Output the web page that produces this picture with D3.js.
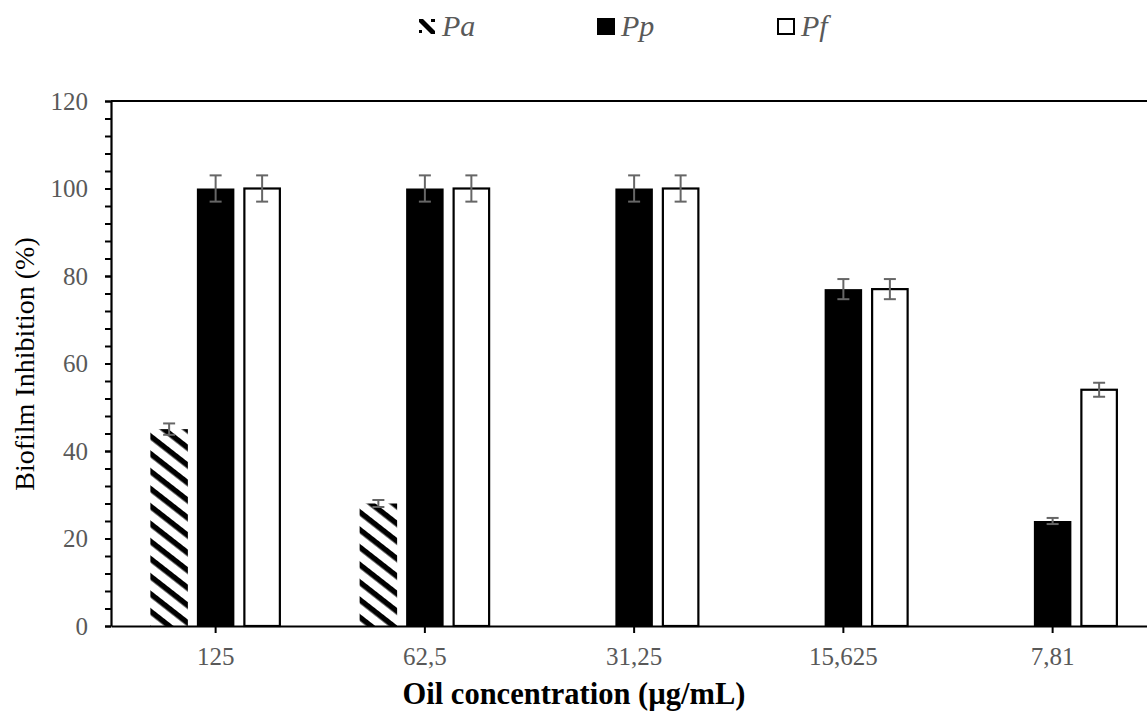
<!DOCTYPE html>
<html>
<head>
<meta charset="utf-8">
<script src="https://cdn.jsdelivr.net/npm/d3@7"></script>
<style>
  html, body { margin: 0; padding: 0; background: #fff; }
  svg { display: block; }
</style>
</head>
<body>
<svg id="chart" width="1147" height="724"></svg>
<script>
const categories = ["125", "62,5", "31,25", "15,625", "7,81"];
const series = ["Pa", "Pp", "Pf"];
const valuesPa = [45, 28, null, null, null];
const valuesPp = [100, 100, 100, 77, 24];
const valuesPf = [100, 100, 100, 77, 54];
const errorsPa = [1.3, 0.8, null, null, null];
const errorsPp = [3, 3, 3, 2.3, 0.7];
const errorsPf = [3, 3, 3, 2.3, 1.6];
const yMajorTicks = [0, 20, 40, 60, 80, 100, 120];
const yMinorTicks = d3.range(0, 121, 4);
const yTitle = "Biofilm Inhibition (%)";
const xTitle = "Oil concentration (µg/mL)";

(function () {
const valueTable = { Pa: valuesPa, Pp: valuesPp, Pf: valuesPf };
const errorTable = { Pa: errorsPa, Pp: errorsPp, Pf: errorsPf };

const svg = d3.select("#chart");
const FONT = "'Liberation Serif', 'Times New Roman', serif";
const GRAY = "#595959";

const plotLeft = 111, plotTop = 101, plotBottom = 626;
const x0 = d3.scaleBand().domain(categories).range([plotLeft, plotLeft + 5 * 209.25]).padding(0);
const groupW = 130.5;
const x1 = d3.scaleBand().domain(series).range([0, groupW]).paddingInner(0.1935).paddingOuter(0);
const y = d3.scaleLinear().domain([0, 120]).range([plotBottom, plotTop]);

// hatch pattern
const defs = svg.append("defs");
const pat = defs.append("pattern")
  .attr("id", "hatch")
  .attr("patternUnits", "userSpaceOnUse")
  .attr("width", 40).attr("height", 13.8)
  .attr("patternTransform", "rotate(38)");
pat.append("rect").attr("width", 40).attr("height", 13.8).attr("fill", "#fff");
pat.append("rect").attr("y", 0).attr("width", 40).attr("height", 5.5).attr("fill", "#000");

// data rows
const rows = [];
categories.forEach((c, i) => {
  series.forEach(s => {
    const v = valueTable[s][i];
    if (v != null) rows.push({ cat: c, s, v, e: errorTable[s][i] });
  });
});

const gx = c => x0(c) + x0.bandwidth() / 2 - groupW / 2;

const bars = svg.append("g");
bars.selectAll("rect").data(rows).join("rect")
  .attr("x", d => gx(d.cat) + x1(d.s) + (d.s === "Pf" ? 1 : 0))
  .attr("y", d => y(d.v))
  .attr("width", d => x1.bandwidth() - (d.s === "Pf" ? 2 : 0))
  .attr("height", d => y(0) - y(d.v))
  .attr("fill", d => d.s === "Pa" ? "url(#hatch)" : d.s === "Pp" ? "#000" : "#fff")
  .attr("stroke", d => d.s === "Pf" ? "#000" : "none")
  .attr("stroke-width", 2.2);

// error bars
const eg = svg.append("g").attr("stroke", "#666").attr("stroke-width", 2).attr("fill", "none");
rows.forEach(d => {
  const cx = gx(d.cat) + x1(d.s) + x1.bandwidth() / 2;
  const y1 = y(d.v + d.e), y2 = y(d.v - d.e);
  eg.append("line").attr("x1", cx).attr("x2", cx).attr("y1", y1).attr("y2", y2);
  eg.append("line").attr("x1", cx - 6).attr("x2", cx + 6).attr("y1", y1).attr("y2", y1);
  eg.append("line").attr("x1", cx - 6).attr("x2", cx + 6).attr("y1", y2).attr("y2", y2);
});

// top border
svg.append("line").attr("x1", plotLeft).attr("x2", 1147).attr("y1", plotTop).attr("y2", plotTop)
  .attr("stroke", "#000").attr("stroke-width", 2.2);

// y axis minor ticks
const yMinor = svg.append("g").attr("transform", `translate(${plotLeft},0)`)
  .call(d3.axisLeft(y).tickValues(yMinorTicks).tickSize(6).tickFormat(""));
yMinor.select(".domain").remove();
yMinor.selectAll("line").attr("stroke", "#000").attr("stroke-width", 2);

// y axis major
const yAx = svg.append("g").attr("transform", `translate(${plotLeft},0)`)
  .call(d3.axisLeft(y).tickValues(yMajorTicks).tickSize(6).tickSizeOuter(0).tickPadding(17));
yAx.select(".domain").attr("stroke", "#000").attr("stroke-width", 2.2);
yAx.selectAll("line").attr("stroke", "#000").attr("stroke-width", 2);
yAx.selectAll("text").attr("font-family", FONT).attr("font-size", 25).attr("fill", GRAY);

// x axis
const xAx = svg.append("g").attr("transform", `translate(0,${plotBottom})`)
  .call(d3.axisBottom(x0).tickSize(7).tickSizeOuter(0).tickPadding(14));
xAx.select(".domain").attr("stroke", "#000").attr("stroke-width", 2.2);
xAx.selectAll("line").attr("stroke", "#000").attr("stroke-width", 2);
xAx.selectAll("text").attr("font-family", FONT).attr("font-size", 25).attr("fill", GRAY);

// titles
svg.append("text")
  .attr("transform", "translate(34,364) rotate(-90)")
  .attr("text-anchor", "middle")
  .attr("font-family", FONT).attr("font-size", 28).attr("fill", "#000")
  .text(yTitle);

svg.append("text")
  .attr("x", 574).attr("y", 704)
  .attr("text-anchor", "middle")
  .attr("font-family", FONT).attr("font-size", 30.5).attr("font-weight", "bold").attr("fill", "#000")
  .text(xTitle);

// legend
const legend = svg.append("g");
const legItems = [
  { s: "Pa", x: 419 },
  { s: "Pp", x: 597 },
  { s: "Pf", x: 777 }
];
legItems.forEach(it => {
  if (it.s === "Pa") {
    legend.append("path")
      .attr("d", `M${it.x},${19} L${it.x + 4},${19} L${it.x + 16},${31} L${it.x + 16},${34} L${it.x + 12},${34} L${it.x},${22} Z`)
      .attr("fill", "#000");
    legend.append("rect").attr("x", it.x).attr("y", 30).attr("width", 3).attr("height", 3).attr("fill", "#000");
    legend.append("rect").attr("x", it.x + 12).attr("y", 19).attr("width", 4).attr("height", 3).attr("fill", "#000");
  } else if (it.s === "Pp") {
    legend.append("rect").attr("x", it.x).attr("y", 18).attr("width", 18).attr("height", 17).attr("fill", "#000");
  } else {
    legend.append("rect").attr("x", it.x + 1).attr("y", 19).attr("width", 16).attr("height", 15)
      .attr("fill", "#fff").attr("stroke", "#000").attr("stroke-width", 2);
  }
  legend.append("text")
    .attr("x", it.x + (it.s === "Pa" ? 23 : 24)).attr("y", 36)
    .attr("font-family", FONT).attr("font-size", 30).attr("font-style", "italic").attr("fill", GRAY)
    .text(it.s);
});
})();
</script>
</body>
</html>
